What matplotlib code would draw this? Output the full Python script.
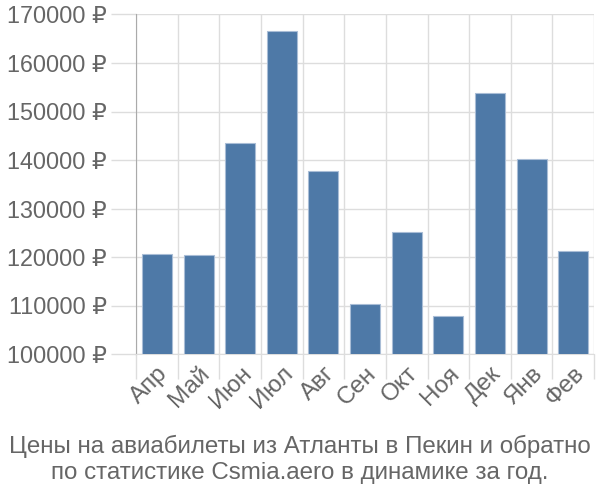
import matplotlib
matplotlib.use('Agg')
import matplotlib.pyplot as plt
import numpy as np

months = ['Апр', 'Май', 'Июн', 'Июл', 'Авг', 'Сен', 'Окт', 'Ноя', 'Дек', 'Янв', 'Фев']
prices = [120600, 120400, 143600, 166500, 137700, 110300, 125100, 107900, 153800, 140300, 121300]
y_ticks = np.arange(100000, 170001, 10000)
title = 'Цены на авиабилеты из Атланты в Пекин и обратно\nпо статистике Csmia.aero в динамике за год.'

plt.rcParams['font.family'] = ['Liberation Sans', 'DejaVu Sans']

text_color = '#666666'
grid_color = '#dddddd'

fig = plt.figure(figsize=(6, 5), dpi=100)
ax = fig.add_axes([0.227, 0.292, 0.763, 0.679])

x = np.arange(len(months))
ax.bar(x, prices, width=0.72, color='#4e79a7', edgecolor='#a9bdd6', linewidth=0.8, zorder=3)

ax.set_xlim(-0.5, len(months) - 0.5)
ax.set_ylim(100000, 170000)
ax.set_yticks(y_ticks)
ax.set_yticklabels(['%d ₽' % v for v in y_ticks])
ax.set_xticks(x)
ax.set_xticklabels(months, rotation=45, ha='right', rotation_mode='anchor')

# vertical grid on category boundaries
ax.set_xticks(np.arange(-0.5, len(months)), minor=True)
ax.grid(True, which='minor', axis='x', color=grid_color, linewidth=1, zorder=0)
ax.grid(True, which='major', axis='y', color=grid_color, linewidth=1, zorder=0)

ax.tick_params(axis='x', which='major', length=0, pad=6, labelsize=17.5, labelcolor=text_color)
ax.tick_params(axis='x', which='minor', length=18, color=grid_color, width=1)
ax.tick_params(axis='y', length=18, color=grid_color, width=1, pad=3,
               labelsize=16.8, labelcolor=text_color)

for side in ('top', 'right'):
    ax.spines[side].set_visible(False)
ax.spines['bottom'].set_color(grid_color)
ax.spines['left'].set_color('#aaaaaa')

fig.text(0.5, 0.081, title, ha='center', va='center', fontsize=17.4,
         color=text_color, linespacing=1.25)

fig.savefig('out.png', dpi=100)
